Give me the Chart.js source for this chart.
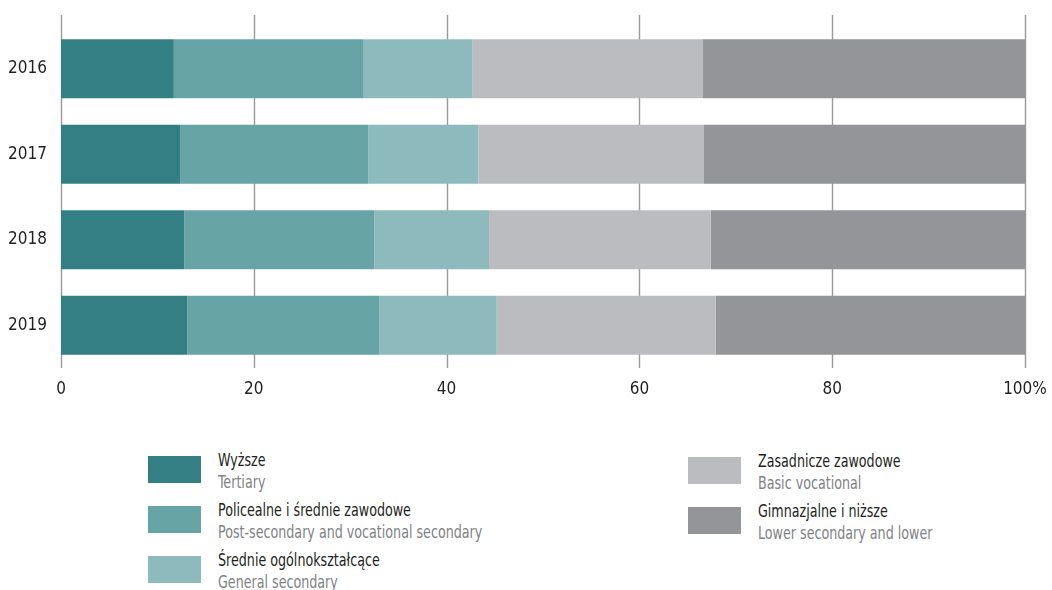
<!DOCTYPE html>
<html>
<head>
<meta charset="utf-8">
<script src="https://cdn.jsdelivr.net/npm/chart.js@4/dist/chart.umd.min.js"></script>
<style>
  body { margin: 0; background: #fff; font-family: 'DejaVu Sans Condensed', sans-serif; }
  #wrap { position: relative; width: 1052px; height: 590px; }
  #box { position: absolute; left: 0; top: 0; width: 1052px; height: 410px; }
  .item { position: absolute; }
  .sw { position: absolute; left: 0; top: 0; width: 53px; height: 27px; }
  .txt { position: absolute; left: 70px; top: -7px; white-space: nowrap; font-size: 17px; line-height: 22px;
         transform: scaleX(0.83); transform-origin: left top; }
  .pl { color: #231f20; }
  .en { color: #808285; }
</style>
</head>
<body>
<div id="wrap">
  <div id="box"><canvas id="educhart"></canvas></div>
  <div id="legend"></div>
</div>
<script>
// years on the category axis
const years = ['2016', '2017', '2018', '2019'];

// shares in %
const wyzsze       = [11.7, 12.4, 12.8, 13.1];
const policealne   = [19.7, 19.5, 19.7, 19.9];
const srednieOgoln = [11.3, 11.4, 11.9, 12.2];
const zasadnicze   = [23.9, 23.4, 23.0, 22.7];
const gimnazjalne  = [33.4, 33.3, 32.6, 32.1];

const xTicks = [0, 20, 40, 60, 80, 100];

const namesPl = ['Wyższe', 'Policealne i średnie zawodowe', 'Średnie ogólnokształcące', 'Zasadnicze zawodowe', 'Gimnazjalne i niższe'];
const namesEn = ['Tertiary', 'Post-secondary and vocational secondary', 'General secondary', 'Basic vocational', 'Lower secondary and lower'];
const colors = ['#347f83', '#67a4a5', '#8dbbbd', '#bbbcc0', '#949599'];

const series = [wyzsze, policealne, srednieOgoln, zasadnicze, gimnazjalne];

const FONT = "'DejaVu Sans Condensed', sans-serif";

// grid lines run a bit above the chart area, so draw them here
const tallGrid = {
  id: 'tallGrid',
  beforeDatasetsDraw(chart) {
    const ctx = chart.ctx;
    const x = chart.scales.x;
    ctx.save();
    ctx.strokeStyle = '#9a9a9a';
    ctx.lineWidth = 1.4;
    xTicks.forEach(v => {
      const px = Math.round(x.getPixelForValue(v)) + 0.5;
      ctx.beginPath();
      ctx.moveTo(px, 15);
      ctx.lineTo(px, chart.chartArea.bottom);
      ctx.stroke();
    });
    ctx.restore();
  }
};

const ctx = document.getElementById('educhart').getContext('2d');
new Chart(ctx, {
  type: 'bar',
  data: {
    labels: years,
    datasets: series.map((d, i) => ({
      label: namesPl[i],
      data: d,
      backgroundColor: colors[i],
      borderWidth: 0,
      barPercentage: 0.69,
      categoryPercentage: 1
    }))
  },
  options: {
    indexAxis: 'y',
    responsive: true,
    maintainAspectRatio: false,
    animation: false,
    layout: { padding: { top: 26, right: 27, left: 0, bottom: 0 } },
    scales: {
      x: {
        stacked: true,
        min: 0,
        max: 100,
        border: { display: false },
        grid: { display: false, drawTicks: false },
        afterBuildTicks(scale) {
          scale.ticks = xTicks.map(v => ({ value: v }));
        },
        afterFit(scale) {
          scale.height = 42;
          scale.paddingLeft = 0;
          scale.paddingRight = 0;
        },
        ticks: {
          padding: 11,
          color: '#231f20',
          font: { family: FONT, size: 17 },
          callback: v => v === 100 ? '100%' : v
        }
      },
      y: {
        stacked: true,
        border: { display: false },
        grid: { display: false, drawTicks: false },
        afterFit(scale) { scale.width = 61; },
        ticks: {
          padding: 14,
          color: '#231f20',
          font: { family: FONT, size: 17 }
        }
      }
    },
    plugins: {
      legend: { display: false },
      tooltip: { enabled: false }
    }
  },
  plugins: [tallGrid]
});

// two-column legend with Polish and English names
const legendSpots = [
  [148, 456], [148, 506], [148, 556],
  [688, 457], [688, 507]
];
const legend = document.getElementById('legend');
namesPl.forEach((name, i) => {
  const item = document.createElement('div');
  item.className = 'item';
  item.style.left = legendSpots[i][0] + 'px';
  item.style.top = legendSpots[i][1] + 'px';
  item.innerHTML =
    '<div class="sw" style="background:' + colors[i] + '"></div>' +
    '<div class="txt"><div class="pl">' + name + '</div><div class="en">' + namesEn[i] + '</div></div>';
  legend.appendChild(item);
});
</script>
</body>
</html>
